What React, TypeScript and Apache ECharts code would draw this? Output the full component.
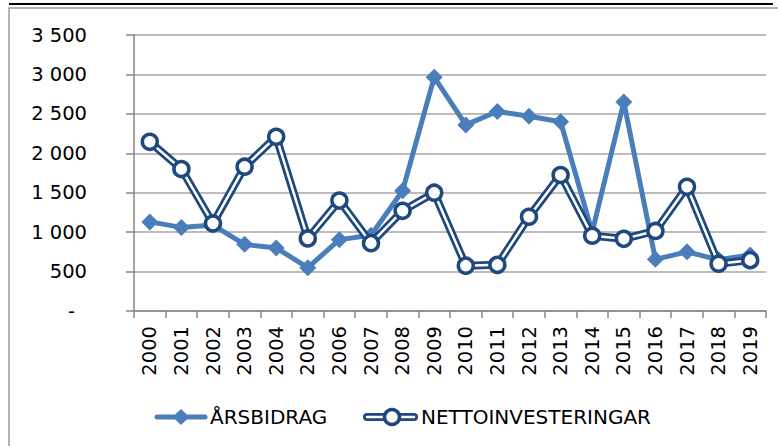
import React, { useEffect, useRef } from "react";
import * as echarts from "echarts";

const years = ["2000","2001","2002","2003","2004","2005","2006","2007","2008","2009","2010","2011","2012","2013","2014","2015","2016","2017","2018","2019"];
const arsbidrag = [1130,1060,1090,845,800,550,905,960,1525,2965,2360,2530,2470,2400,1000,2650,655,750,650,710];
const nettoinvesteringar = [2145,1800,1110,1830,2210,920,1400,860,1270,1500,575,585,1195,1725,955,915,1015,1575,600,645];
const yTicks = { min: 0, max: 3500, interval: 500 };

const LIGHT = "#4a7ebb";
const DARK = "#1f497d";
const FONT = "DejaVu Sans";

function fmt(v: number): string {
  return String(v).replace(/\B(?=(\d{3})+(?!\d))/g, " ");
}

export default function App() {
  const ref = useRef<HTMLDivElement>(null);
  useEffect(() => {
    if (!ref.current) return;
    const chart = echarts.init(ref.current, null, { renderer: "svg" });
    chart.setOption({
      animation: false,
      backgroundColor: "#ffffff",
      grid: { left: 134, right: 12, top: 35, bottom: 135, containLabel: false },
      xAxis: {
        type: "category",
        data: years,
        boundaryGap: true,
        axisLine: { show: true, lineStyle: { color: "#868686", width: 1.5 } },
        axisTick: { show: true, inside: false, length: 7, alignWithLabel: false, lineStyle: { color: "#868686", width: 1.5 } },
        axisLabel: { rotate: 90, margin: 15, color: "#000", fontFamily: FONT, fontSize: 19.5, interval: 0 },
        splitLine: { show: false },
      },
      yAxis: {
        type: "value",
        min: yTicks.min,
        max: yTicks.max,
        interval: yTicks.interval,
        axisLine: { show: true, lineStyle: { color: "#868686", width: 1.5 } },
        axisTick: { show: true, inside: false, length: 8, lineStyle: { color: "#868686", width: 1.5 } },
        splitLine: { show: true, lineStyle: { color: "#a6a6a6", width: 1.5 } },
        axisLabel: {
          margin: 47,
          color: "#000",
          fontFamily: FONT,
          fontSize: 19.5,
          formatter: (v: number) => (v === 0 ? "{z|-}" : fmt(v)),
          rich: { z: { fontFamily: FONT, fontSize: 19.5, color: "#000", padding: [0, 12, 0, 0] } },
        },
      },
      series: [
        {
          name: "ÅRSBIDRAG",
          type: "line",
          data: arsbidrag,
          symbol: "diamond",
          symbolSize: 17,
          lineStyle: { color: LIGHT, width: 5 },
          itemStyle: { color: LIGHT },
          z: 2,
        },
        {
          name: "NETTOINVESTERINGAR",
          type: "line",
          data: nettoinvesteringar,
          symbol: "none",
          lineStyle: { color: DARK, width: 8 },
          z: 3,
        },
        {
          name: "NETTOINVESTERINGAR_inner",
          type: "line",
          data: nettoinvesteringar,
          symbol: "circle",
          symbolSize: 15,
          lineStyle: { color: "#ffffff", width: 2.5 },
          itemStyle: { color: "#ffffff", borderColor: DARK, borderWidth: 3.5 },
          z: 4,
        },
      ],
      graphic: [
        { type: "line", shape: { x1: 9, y1: 4, x2: 773, y2: 4 }, style: { stroke: "#000", lineWidth: 2 }, silent: true },
        { type: "rect", shape: { x: 9, y: 8, width: 800, height: 500 }, style: { fill: "none", stroke: "#9a9a9a", lineWidth: 1.5 }, silent: true },
        { type: "line", shape: { x1: 157, y1: 417, x2: 205, y2: 417 }, style: { stroke: LIGHT, lineWidth: 5, lineCap: "round" } },
        { type: "polygon", shape: { points: [[181, 409], [189.5, 417], [181, 425], [172.5, 417]] }, style: { fill: LIGHT } },
        { type: "text", style: { text: "ÅRSBIDRAG", x: 210, y: 417, verticalAlign: "middle", align: "left", fontFamily: FONT, fontSize: 20, fill: "#000" } },
        { type: "line", shape: { x1: 367, y1: 417, x2: 414, y2: 417 }, style: { stroke: DARK, lineWidth: 8, lineCap: "round" } },
        { type: "line", shape: { x1: 367, y1: 417, x2: 414, y2: 417 }, style: { stroke: "#ffffff", lineWidth: 2.5, lineCap: "round" } },
        { type: "circle", shape: { cx: 392, cy: 417, r: 7.5 }, style: { fill: "#ffffff", stroke: DARK, lineWidth: 3.5 } },
        { type: "text", style: { text: "NETTOINVESTERINGAR", x: 421, y: 417, verticalAlign: "middle", align: "left", fontFamily: FONT, fontSize: 20, fill: "#000" } },
      ],
    });
    return () => chart.dispose();
  }, []);
  return <div ref={ref} style={{ position: "fixed", left: 0, top: 0, width: 778, height: 446 }} />;
}
